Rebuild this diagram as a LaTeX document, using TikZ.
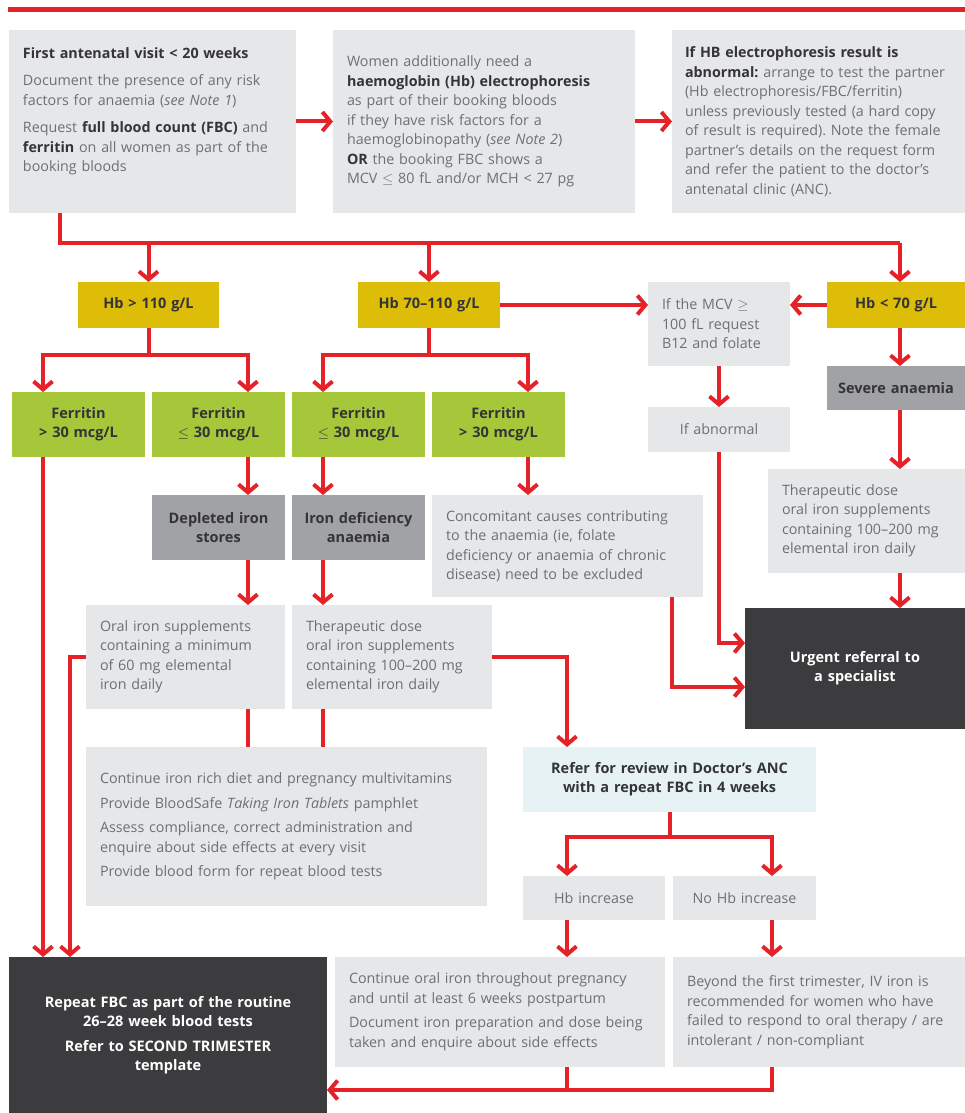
\documentclass[tikz,border=0pt]{standalone}
\usepackage{fontspec}
\setsansfont{Open Sans}
\usetikzlibrary{arrows.meta, positioning}

\definecolor{ancred}{RGB}{228,34,40}
\definecolor{boxgrey}{RGB}{230,231,232}
\definecolor{hbyellow}{RGB}{221,189,8}
\definecolor{fergreen}{RGB}{166,199,58}
\definecolor{diaggrey}{RGB}{161,162,165}
\definecolor{darkgrey}{RGB}{60,60,62}
\definecolor{referblue}{RGB}{231,242,245}
\definecolor{txtgrey}{RGB}{110,111,114}
\definecolor{txtdark}{RGB}{52,52,54}

\newcommand{\bt}[1]{{\bfseries\color{txtdark}#1}}

\begin{document}
\frenchspacing
\begin{tikzpicture}[x=1pt, y=-1pt, font=\sffamily\fontsize{14.3}{19.5}\selectfont]
        % Setup the styles for the boxes and arrows
        \tikzset{gbox/.style={fill=boxgrey, text=txtgrey, align=left,
                              inner xsep=14pt, inner ysep=0pt, outer sep=0pt},
                 cbox/.style={gbox, align=center, inner xsep=6pt},
                 hbbox/.style={cbox, fill=hbyellow, text=txtdark,
                               font=\sffamily\bfseries\fontsize{14.5}{19}\selectfont},
                 ferbox/.style={hbbox, fill=fergreen},
                 diagbox/.style={hbbox, fill=diaggrey},
                 darkbox/.style={hbbox, fill=darkgrey, text=white},
                 redline/.style={draw=ancred, line width=4pt},
                 redarrow/.style={redline, -{Straight Barb[length=8pt, width=19pt]}}}

        \useasboundingbox (0,0) rectangle (965,1113);
        \draw[draw=ancred, line width=5pt] (8,9.5) -- (965,9.5);

        % Columns for the connectors
        \coordinate (c1) at (43,0);
        \coordinate (c2) at (248,0);
        \coordinate (c3) at (323,0);
        \coordinate (c4) at (528,0);
        \coordinate (c5) at (672,0);
        \coordinate (c6) at (900,0);
        \coordinate (c7) at (567,0);
        \coordinate (c8) at (772,0);
        \coordinate (c9) at (70,0);

        % Top row
        \node[gbox, text width=259pt, minimum height=183pt] at (152.5,121.5) (first)
            {\bt{First antenatal visit < 20 weeks}\\[8pt]
             Document the presence of any risk\\ factors for anaemia (\textit{see Note 1})\\[8pt]
             Request \bt{full blood count (FBC)} and\\ \bt{ferritin} on all women as part of the\\ booking bloods\par\vspace*{20pt}};
        \node[gbox, text width=274pt, minimum height=183pt] at (484,121.5) (women)
            {Women additionally need a\\ \bt{haemoglobin (Hb) electrophoresis}\\ as part of their booking bloods\\
             if they have risk factors for a\\ haemoglobinopathy (\textit{see Note 2})\\
             \bt{OR} the booking FBC shows a\\ MCV $\leq$ 80 fL and/or MCH < 27 pg};
        \node[gbox, inner xsep=13pt, text width=267pt, minimum height=183pt] at (818.5,121.5) (abnormal)
            {\bt{If HB electrophoresis result is}\\ \bt{abnormal:} arrange to test the partner\\
             (Hb electrophoresis/FBC/ferritin)\\ unless previously tested (a hard copy\\
             of result is required). Note the female\\ partner's details on the request form\\
             and refer the patient to the doctor's\\ antenatal clinic (ANC).};

        % Hb results
        \node[hbbox, text width=129pt, minimum height=46pt] at (148.5,305) (hbhigh) {Hb > 110 g/L};
        \node[hbbox, text width=130pt, minimum height=46pt] at (429,305) (hbmid) {Hb 70--110 g/L};
        \node[hbbox, text width=126pt, minimum height=46pt] at (896,305) (hblow) {Hb < 70 g/L};
        \node[gbox, text width=114pt, minimum height=84pt] at (719,324) (mcv)
            {If the MCV $\geq$\\ 100 fL request\\ B12 and folate};
        \node[diagbox, text width=126pt, minimum height=44pt] at (896,388) (severe) {Severe anaemia};
        \node[cbox, text width=130pt, minimum height=45pt] at (719,429.5) (ifabn) {If abnormal};

        % Ferritin results
        \node[ferbox, text width=121pt, minimum height=65pt] at (78.5,424.5) (fer1) {Ferritin\\ > 30 mcg/L};
        \node[ferbox, text width=121pt, minimum height=65pt] at (218.5,424.5) (fer2) {Ferritin\\ $\leq$ 30 mcg/L};
        \node[ferbox, text width=121pt, minimum height=65pt] at (358.5,424.5) (fer3) {Ferritin\\ $\leq$ 30 mcg/L};
        \node[ferbox, text width=121pt, minimum height=65pt] at (498.5,424.5) (fer4) {Ferritin\\ > 30 mcg/L};

        % Diagnoses and treatment
        \node[diagbox, text width=121pt, minimum height=65pt] at (218.5,527.5) (depleted) {Depleted iron\\ stores};
        \node[diagbox, text width=121pt, minimum height=65pt] at (358.5,527.5) (irondef) {Iron deficiency\\ anaemia};
        \node[gbox, text width=243pt, minimum height=102pt] at (567.5,546) (concom)
            {Concomitant causes contributing\\ to the anaemia (ie, folate\\
             deficiency or anaemia of chronic\\ disease) need to be excluded};
        \node[gbox, text width=169pt, minimum height=104pt] at (866.5,521) (therright)
            {Therapeutic dose\\ oral iron supplements\\ containing 100--200 mg\\ elemental iron daily};
        \node[gbox, text width=171pt, minimum height=104pt] at (185.5,657) (oral)
            {Oral iron supplements\\ containing a minimum\\ of 60 mg elemental\\ iron daily};
        \node[gbox, text width=172pt, minimum height=104pt] at (392,657) (thera)
            {Therapeutic dose\\ oral iron supplements\\ containing 100--200 mg\\ elemental iron daily};
        \node[darkbox, text width=208pt, minimum height=121pt] at (855,668.5) (urgent)
            {Urgent referral to\\ a specialist};

        % Follow up
        \node[gbox, text width=373pt, minimum height=159pt] at (286.5,826.5) (contrich)
            {Continue iron rich diet and pregnancy multivitamins\\[5pt]
             Provide BloodSafe \textit{Taking Iron Tablets} pamphlet\\[5pt]
             Assess compliance, correct administration and\\ enquire about side effects at every visit\\[5pt]
             Provide blood form for repeat blood tests};
        \node[hbbox, fill=referblue, text width=281pt, minimum height=65pt] at (669.5,779.5) (refer)
            {Refer for review in Doctor's ANC\\ with a repeat FBC in 4 weeks};
        \node[cbox, text width=130pt, minimum height=44pt] at (594,898) (hbinc) {Hb increase};
        \node[cbox, text width=131pt, minimum height=44pt] at (744.5,898) (nohb) {No Hb increase};
        \node[gbox, text width=302pt, minimum height=110pt] at (500,1012) (contoral)
            {Continue oral iron throughout pregnancy\\ and until at least 6 weeks postpartum\\[5pt]
             Document iron preparation and dose being\\ taken and enquire about side effects};
        \node[gbox, text width=264pt, minimum height=110pt] at (819,1012) (beyond)
            {Beyond the first trimester, IV iron is\\ recommended for women who have\\
             failed to respond to oral therapy / are\\ intolerant / non-compliant};
        \node[darkbox, text width=306pt, minimum height=156pt] at (168,1035) (repeat)
            {Repeat FBC as part of the routine\\ 26--28 week blood tests\\[6pt]
             Refer to SECOND TRIMESTER\\ template};

        % Connect the boxes with arrows
        \draw[redarrow] (first) -- (women);
        \draw[redarrow] (women) -- (abnormal);
        \coordinate (split) at (60,243);
        \draw[redline] (split |- first.south) -- (split) -- (split -| c6);
        \draw[redarrow] (split -| hbhigh) -- (hbhigh);
        \draw[redarrow] (split -| hbmid) -- (hbmid);
        \draw[redarrow] (split -| c6) -- (c6 |- hblow.north);
        \draw[redarrow] (hbmid.east) -- (hbmid.east -| mcv.west);
        \draw[redarrow] (hblow.west) -- (hblow.west -| mcv.east);
        \draw[redarrow] (mcv) -- (ifabn);
        \draw[redarrow] (c6 |- hblow.south) -- (c6 |- severe.north);
        \draw[redarrow] (c6 |- severe.south) -- (c6 |- therright.north);
        \draw[redarrow] (c6 |- therright.south) -- (c6 |- urgent.north);
        \draw[redarrow] (ifabn.south) |- ([yshift=25.5pt]urgent.west);
        \draw[redarrow] (c5 |- concom.south) |- ([yshift=-18.5pt]urgent.west);

        \coordinate (b1) at (148.5,355);
        \coordinate (b2) at (429,355);
        \draw[redline] (hbhigh) -- (b1);
        \draw[redarrow] (b1) -| (c1 |- fer1.north);
        \draw[redarrow] (b1) -| (c2 |- fer2.north);
        \draw[redline] (hbmid) -- (b2);
        \draw[redarrow] (b2) -| (c3 |- fer3.north);
        \draw[redarrow] (b2) -| (c4 |- fer4.north);

        \draw[redarrow] (c1 |- fer1.south) -- (c1 |- repeat.north);
        \draw[redarrow] (c2 |- fer2.south) -- (c2 |- depleted.north);
        \draw[redarrow] (c3 |- fer3.south) -- (c3 |- irondef.north);
        \draw[redarrow] (c4 |- fer4.south) -- (c4 |- concom.north);
        \draw[redarrow] (c2 |- depleted.south) -- (c2 |- oral.north);
        \draw[redarrow] (c3 |- irondef.south) -- (c3 |- thera.north);
        \draw[redarrow] (oral.west) -| (c9 |- repeat.north);
        \draw[redline] (c2 |- oral.south) -- (c2 |- contrich.north);
        \draw[redline] (c3 |- thera.south) -- (c3 |- contrich.north);
        \draw[redarrow] (thera.east) -| (c7 |- refer.north);

        \coordinate (b3) at (669.5,837);
        \draw[redline] (refer) -- (b3);
        \draw[redarrow] (b3) -| (c7 |- hbinc.north);
        \draw[redarrow] (b3) -| (c8 |- nohb.north);
        \draw[redarrow] (c7 |- hbinc.south) -- (c7 |- contoral.north);
        \draw[redarrow] (c8 |- nohb.south) -- (c8 |- beyond.north);
        \coordinate (bot) at (0,1090);
        \draw[redline] (c8 |- beyond.south) |- (c7 |- bot);
        \draw[redarrow] (c7 |- contoral.south) |- (repeat.east |- bot);
\end{tikzpicture}
\end{document}
